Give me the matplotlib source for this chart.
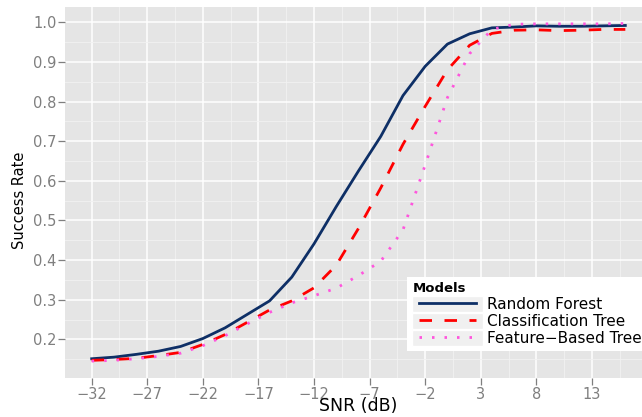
"""
Success rate vs SNR for three classifiers (ggplot-like look).
"""

import numpy as np
import matplotlib
matplotlib.use("Agg")
import matplotlib.pyplot as plt
from matplotlib.legend_handler import HandlerLine2D
from matplotlib.lines import Line2D
from matplotlib.patches import Rectangle

# ---- datos ----
snr = [-32, -30, -28, -26, -24, -22, -20, -18, -16, -14, -12, -10, -8,
       -6, -4, -2, 0, 2, 4, 6, 8, 10, 12, 14, 16]

random_forest = [0.151, 0.155, 0.162, 0.170, 0.182, 0.202, 0.229, 0.263,
                 0.297, 0.357, 0.441, 0.535, 0.625, 0.712, 0.815, 0.889,
                 0.945, 0.971, 0.986, 0.988, 0.991, 0.990, 0.990, 0.991,
                 0.992]

classification_tree = [0.147, 0.149, 0.152, 0.159, 0.167, 0.187, 0.212,
                       0.243, 0.274, 0.297, 0.330, 0.387, 0.480, 0.582,
                       0.692, 0.788, 0.880, 0.942, 0.972, 0.980, 0.981,
                       0.979, 0.980, 0.982, 0.982]

feature_tree = [0.145, 0.147, 0.151, 0.157, 0.165, 0.184, 0.209, 0.239,
                0.268, 0.292, 0.310, 0.329, 0.361, 0.397, 0.476, 0.640,
                0.810, 0.921, 0.982, 0.995, 0.996, 0.996, 0.996, 0.996,
                0.997]

series_names = ["Random Forest", "Classification Tree", "Feature\u2212Based Tree"]
series_colors = ["#0E2F66", "#FF0000", "#FF55DD"]
series_styles = ["-", (0, (4.5, 4.5)), (0, (0.9, 3.6))]

x_ticks = [-32, -27, -22, -17, -12, -7, -2, 3, 8, 13]
y_ticks = [0.2, 0.3, 0.4, 0.5, 0.6, 0.7, 0.8, 0.9, 1.0]

GRIS = "#7F7F7F"


class KeyHandler(HandlerLine2D):
    """Line legend key with the grey ggplot background box."""

    def get_xdata(self, legend, xdescent, ydescent, width, height, fontsize):
        pad = 0.1 * width
        xdata = np.array([-xdescent + pad, -xdescent + width - pad])
        return xdata, xdata

    def create_artists(self, legend, orig_handle, xdescent, ydescent,
                       width, height, fontsize, trans):
        fondo = Rectangle((-xdescent, -ydescent - 1.2), width, height + 2.4,
                          facecolor="#F0F0F0", edgecolor="white", lw=1.0,
                          transform=trans)
        arts = super().create_artists(legend, orig_handle, xdescent, ydescent,
                                      width, height, fontsize, trans)
        return [fondo] + list(arts)


def main():
    fig = plt.figure(figsize=(6.42, 4.17), dpi=100)
    ax = fig.add_axes([65 / 642, 1 - 378 / 417, (652 - 65) / 642, (378 - 7) / 417])
    ax.set_facecolor("#E5E5E5")
    for s in ax.spines.values():
        s.set_visible(False)

    datos = [random_forest, classification_tree, feature_tree]
    handles = []
    for y, nombre, col, ls in zip(datos, series_names, series_colors, series_styles):
        ax.plot(snr, y, color=col, lw=2.0, ls=ls, label=nombre,
                solid_joinstyle="round", zorder=3)
        handles.append(Line2D([], [], color=col, lw=2.0, ls=ls))

    ax.set_xlim(-34.4, 18.4)
    ax.set_ylim(0.1024, 1.0386)
    ax.set_xticks(x_ticks)
    ax.set_xticks([t + 2.5 for t in x_ticks], minor=True)
    ax.set_yticks(y_ticks)
    ax.set_yticks([round(t - 0.05, 2) for t in y_ticks], minor=True)
    ax.set_yticklabels([f"{v:.1f}" for v in y_ticks])

    ax.tick_params(which="major", length=5, width=0.9, color=GRIS,
                   labelcolor=GRIS, labelsize=10.5, pad=1.2)
    ax.tick_params(which="minor", length=0)
    ax.grid(which="major", color="white", lw=1.1)
    ax.grid(which="minor", color="#F2F2F2", lw=0.6)
    ax.set_axisbelow(True)

    # titulos de ejes colocados a mano (px -> coords de ejes)
    ax.set_xlabel("SNR (dB)", fontsize=12.5, va="baseline")
    ax.xaxis.set_label_coords(0.5, (378 - 411) / 371)
    ax.set_ylabel("Success Rate", fontsize=10.5, va="center")
    ax.yaxis.set_label_coords((20 - 65) / 587, (378 - 200) / 371)

    leg = ax.legend(handles, series_names, title="Models",
                    loc="upper left", bbox_to_anchor=(407 / 642, 1 - 277 / 417),
                    bbox_transform=fig.transFigure,
                    handler_map={Line2D: KeyHandler()},
                    fontsize=11, title_fontproperties={"size": 9.5, "weight": "bold"},
                    alignment="left", frameon=True, fancybox=False,
                    facecolor="white", edgecolor="white", framealpha=1.0,
                    handlelength=4.6, handleheight=0.9, handletextpad=0.3,
                    labelspacing=0.12, borderpad=0.35, borderaxespad=0)
    leg.get_frame().set_linewidth(0)

    fig.savefig("out.png", dpi=100)


if __name__ == "__main__":
    main()
